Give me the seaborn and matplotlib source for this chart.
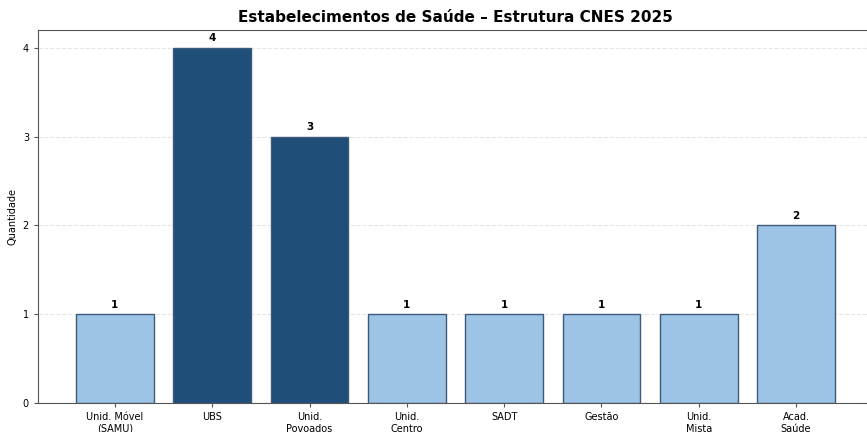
import matplotlib
matplotlib.use("Agg")
import matplotlib.pyplot as plt
import seaborn as sns
import pandas as pd

categories = ["Unid. Móvel\n(SAMU)", "UBS", "Unid.\nPovoados", "Unid.\nCentro",
              "SADT", "Gestão", "Unid.\nMista", "Acad.\nSaúde"]
values = [1, 4, 3, 1, 1, 1, 1, 2]
light = "#9DC3E6"
dark = "#1F4E79"
colors = [light, dark, dark, light, light, light, light, light]

df = pd.DataFrame({"cat": categories, "val": values})

sns.set_style("white")
plt.rcParams['font.family'] = ['DejaVu Sans']
plt.rcParams['text.color'] = 'black'
plt.rcParams['axes.labelcolor'] = 'black'
plt.rcParams['xtick.color'] = 'black'
plt.rcParams['ytick.color'] = 'black'

fig = plt.figure(figsize=(8.67, 4.32), dpi=100)
W, H = 867, 432
ax = fig.add_axes([38 / W, 1 - 403 / H, (873 - 38) / W, (403 - 30) / H])

sns.barplot(data=df, x="cat", y="val", hue="cat", palette=colors, legend=False,
            width=0.8, edgecolor="#3d5a78", linewidth=1.0, ax=ax, saturation=1)
ax.set_xlim(-0.79, 7.79)
ax.set_ylim(0, 4.2)
ax.set_yticks([0, 1, 2, 3, 4])
ax.yaxis.grid(True, color="#e6e6e6", linestyle="--", linewidth=0.8)
ax.set_axisbelow(True)
for i, v in enumerate(values):
    ax.text(i, v + 0.05, str(v), ha="center", va="bottom", fontsize=7.5,
            fontweight="bold", color="black")
ax.set_xlabel("")
ax.set_ylabel("Quantidade", fontsize=7)
ax.tick_params(axis="both", labelsize=7, length=3, color="#555555", bottom=True, left=True)
for s in ax.spines.values():
    s.set_color("#555555")
ax.set_title("Estabelecimentos de Saúde – Estrutura CNES 2025", fontsize=11,
             fontweight="bold", pad=6, color="black")
fig.savefig("out.png", dpi=100)
